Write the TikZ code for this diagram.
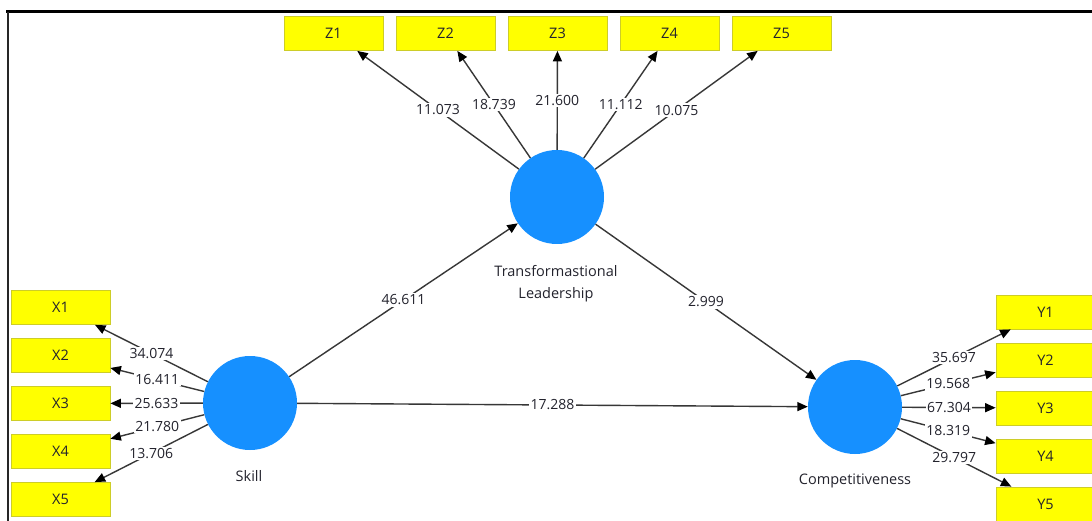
\documentclass[tikz,border=0pt]{standalone}
\usepackage{fontspec}
\setmainfont{Open Sans}
\usetikzlibrary{arrows.meta}
\definecolor{nodeblue}{RGB}{22,144,255}
\definecolor{boxyellow}{RGB}{255,255,0}
\definecolor{boxedge}{RGB}{205,205,40}
\definecolor{linegray}{RGB}{55,55,55}
\definecolor{txt}{RGB}{35,35,45}
\begin{document}
\begin{tikzpicture}[x=1pt,y=-1pt,
  latent/.style={circle,fill=nodeblue,minimum size=94pt,inner sep=0pt},
  ind/.style={rectangle,fill=boxyellow,draw=boxedge,line width=0.8pt,minimum width=99pt,minimum height=34pt,inner sep=0pt,font=\fontsize{14.5}{16}\selectfont,text=txt},
  conn/.style={draw=linegray,line width=1.4pt,-{Triangle[length=10.5pt,width=9pt,color=black]}},
  lbl/.style={fill=white,inner sep=1.5pt,font=\fontsize{14}{16}\selectfont,text=txt},
  capt/.style={font=\fontsize{14.5}{22}\selectfont,text=txt,align=center}]
\useasboundingbox (0,0) rectangle (1092,521);
\clip (0,0) rectangle (1092,521);
\fill[white] (0,0) rectangle (1092,521);
% frame
\draw[line width=3pt,black] (6,12) -- (1100,12);
\draw[line width=2.5pt,black!85] (8,12) -- (8,530);
% latent variables
\node[latent] (tl) at (557,197) {};
\node[latent] (skill) at (250,403) {};
\node[latent] (comp) at (855,407) {};
\node[capt] (tllab) at (556,284) {Transformastional\\Leadership};
\node[capt] (skilllab) at (249,476) {Skill};
\node[capt] (complab) at (855,481) {Competitiveness};
% indicators
\node[ind] (z1) at (333.5,33.5) {Z1};
\node[ind] (z2) at (445.5,33.5) {Z2};
\node[ind] (z3) at (557.5,33.5) {Z3};
\node[ind] (z4) at (669.5,33.5) {Z4};
\node[ind] (z5) at (781.5,33.5) {Z5};
\node[ind] (x1) at (60.5,307.5) {X1};
\node[ind] (x2) at (60.5,355.5) {X2};
\node[ind] (x3) at (60.5,403.5) {X3};
\node[ind] (x4) at (60.5,451.5) {X4};
\node[ind] (x5) at (60.5,499.5) {X5};
\node[ind] (y1) at (1045.5,312) {Y1};
\node[ind] (y2) at (1045.5,360) {Y2};
\node[ind] (y3) at (1045.5,408) {Y3};
\node[ind] (y4) at (1045.5,456) {Y4};
\node[ind] (y5) at (1045.5,504) {Y5};
% outer loadings
\draw[conn] (tl) -- node[lbl]{11.073} (z1);
\draw[conn] (tl) -- node[lbl]{18.739} (z2);
\draw[conn] (tl) -- node[lbl]{21.600} (z3);
\draw[conn] (tl) -- node[lbl]{11.112} (z4);
\draw[conn] (tl) -- node[lbl]{10.075} (z5);
\draw[conn] (skill) -- node[lbl]{34.074} (x1);
\draw[conn] (skill) -- node[lbl]{16.411} (x2);
\draw[conn] (skill) -- node[lbl]{25.633} (x3);
\draw[conn] (skill) -- node[lbl]{21.780} (x4);
\draw[conn] (skill) -- node[lbl]{13.706} (x5);
\draw[conn] (comp) -- node[lbl]{35.697} (y1);
\draw[conn] (comp) -- node[lbl]{19.568} (y2);
\draw[conn] (comp) -- node[lbl]{67.304} (y3);
\draw[conn] (comp) -- node[lbl]{18.319} (y4);
\draw[conn] (comp) -- node[lbl]{29.797} (y5);
% structural paths
\draw[conn] (skill) -- node[lbl]{46.611} (tl);
\draw[conn] (tl) -- node[lbl]{2.999} (comp);
\draw[conn] (skill) -- node[lbl]{17.288} (comp);
\end{tikzpicture}
\end{document}
